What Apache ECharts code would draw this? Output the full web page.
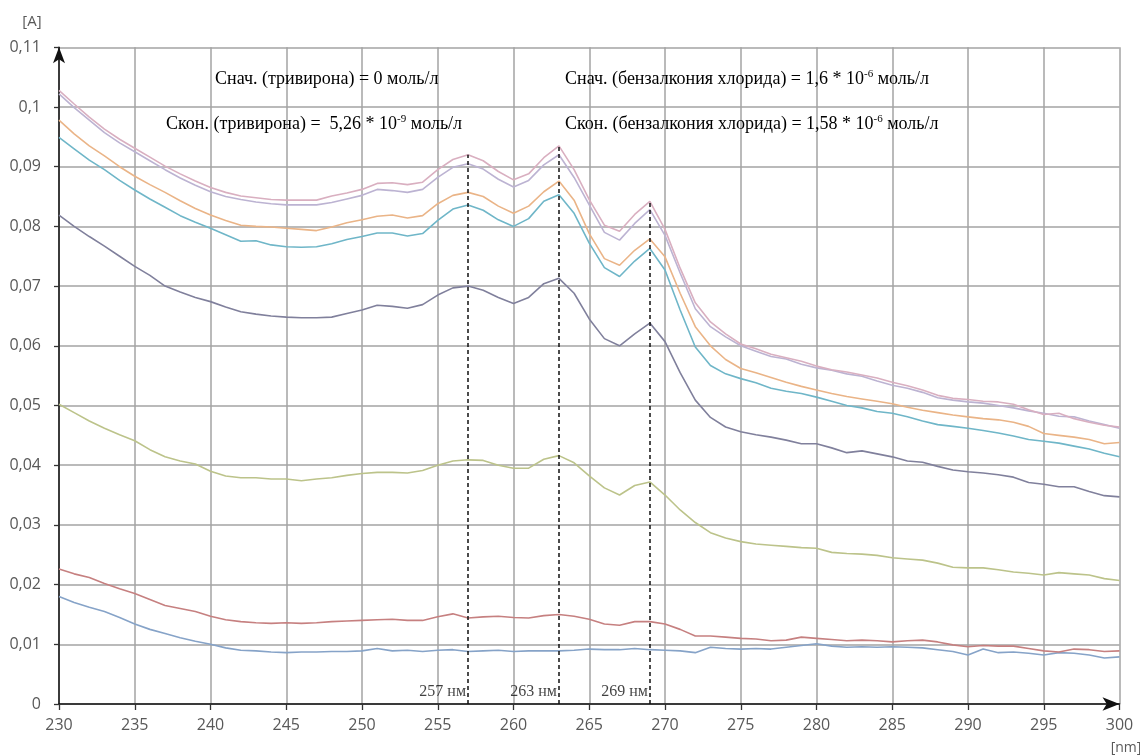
<!DOCTYPE html>
<html>
<head>
<meta charset="utf-8">
<script src="https://cdn.jsdelivr.net/npm/echarts@6/dist/echarts.min.js"></script>
<style>
  html, body { margin: 0; padding: 0; background: #fff; }
  #chart { width: 1140px; height: 755px; }
</style>
</head>
<body>
<div id="chart"></div>
<script>
// Wavelength grid, nm (230 … 300, step 1)
const wavelengths = [];
for (let w = 230; w <= 300; w++) wavelengths.push(w);

// Absorbance spectra, one value per nm
const spectrumPink = [
  0.1028,0.1005,0.0983,0.0963,0.0946,0.0931,0.0916,0.0901,0.0888,0.0876,
  0.0865,0.0857,0.0851,0.0848,0.0845,0.0844,0.0844,0.0844,0.0851,0.0856,
  0.0862,0.0872,0.0873,0.0870,0.0874,0.0895,0.0912,0.0920,0.0910,0.0892,
  0.0878,0.0888,0.0915,0.0935,0.0895,0.0845,0.0802,0.0792,0.0820,0.0842,
  0.0795,0.0730,0.0672,0.0640,0.0620,0.0603,0.0595,0.0586,0.0580,0.0574,
  0.0566,0.0560,0.0556,0.0551,0.0546,0.0539,0.0533,0.0526,0.0517,0.0512,
  0.0510,0.0507,0.0506,0.0502,0.0493,0.0485,0.0487,0.0478,0.0472,0.0467,
  0.0464
];
const spectrumLavender = [
  0.1022,0.0999,0.0978,0.0957,0.0940,0.0925,0.0910,0.0895,0.0881,0.0869,
  0.0858,0.0850,0.0845,0.0841,0.0838,0.0836,0.0836,0.0836,0.0840,0.0846,
  0.0852,0.0862,0.0860,0.0857,0.0862,0.0882,0.0899,0.0905,0.0896,0.0879,
  0.0866,0.0877,0.0903,0.0920,0.0882,0.0836,0.0790,0.0777,0.0805,0.0828,
  0.0785,0.0722,0.0662,0.0632,0.0615,0.0600,0.0591,0.0582,0.0578,0.0569,
  0.0563,0.0559,0.0553,0.0549,0.0541,0.0534,0.0529,0.0522,0.0513,0.0509,
  0.0506,0.0504,0.0500,0.0496,0.0491,0.0487,0.0482,0.0481,0.0474,0.0468,
  0.0462
];
const spectrumOrange = [
  0.0978,0.0955,0.0935,0.0918,0.0900,0.0884,0.0870,0.0857,0.0843,0.0830,
  0.0819,0.0810,0.0802,0.0800,0.0799,0.0797,0.0795,0.0793,0.0799,0.0806,
  0.0811,0.0817,0.0819,0.0814,0.0818,0.0838,0.0852,0.0857,0.0850,0.0834,
  0.0822,0.0834,0.0858,0.0876,0.0844,0.0788,0.0746,0.0735,0.0760,0.0779,
  0.0749,0.0688,0.0632,0.0600,0.0577,0.0562,0.0555,0.0547,0.0539,0.0532,
  0.0526,0.0520,0.0515,0.0511,0.0507,0.0503,0.0497,0.0492,0.0488,0.0484,
  0.0481,0.0478,0.0476,0.0472,0.0465,0.0453,0.0450,0.0447,0.0443,0.0436,
  0.0438
];
const spectrumTeal = [
  0.0949,0.0930,0.0911,0.0895,0.0877,0.0861,0.0846,0.0832,0.0818,0.0807,
  0.0797,0.0786,0.0775,0.0776,0.0769,0.0766,0.0765,0.0766,0.0771,0.0778,
  0.0783,0.0789,0.0789,0.0784,0.0788,0.0810,0.0829,0.0836,0.0827,0.0811,
  0.0800,0.0813,0.0842,0.0853,0.0822,0.0772,0.0731,0.0716,0.0742,0.0763,
  0.0727,0.0660,0.0598,0.0567,0.0553,0.0545,0.0538,0.0529,0.0524,0.0520,
  0.0514,0.0507,0.0500,0.0496,0.0490,0.0487,0.0481,0.0474,0.0468,0.0465,
  0.0462,0.0458,0.0454,0.0449,0.0443,0.0440,0.0437,0.0432,0.0427,0.0420,
  0.0414
];
const spectrumSlate = [
  0.0819,0.0800,0.0783,0.0767,0.0750,0.0733,0.0718,0.0700,0.0690,0.0681,
  0.0674,0.0665,0.0657,0.0653,0.0650,0.0648,0.0647,0.0647,0.0648,0.0654,
  0.0660,0.0668,0.0666,0.0663,0.0669,0.0685,0.0697,0.0700,0.0693,0.0681,
  0.0671,0.0681,0.0704,0.0713,0.0688,0.0645,0.0612,0.0600,0.0620,0.0638,
  0.0607,0.0555,0.0509,0.0480,0.0464,0.0456,0.0451,0.0447,0.0442,0.0436,
  0.0436,0.0429,0.0421,0.0424,0.0419,0.0414,0.0407,0.0405,0.0398,0.0392,
  0.0389,0.0387,0.0384,0.0380,0.0371,0.0368,0.0364,0.0364,0.0356,0.0349,
  0.0347
];
const spectrumOlive = [
  0.0502,0.0488,0.0474,0.0462,0.0451,0.0441,0.0426,0.0414,0.0407,0.0402,
  0.0390,0.0382,0.0379,0.0379,0.0377,0.0377,0.0374,0.0377,0.0379,0.0383,
  0.0386,0.0388,0.0388,0.0387,0.0391,0.0400,0.0407,0.0409,0.0408,0.0400,
  0.0395,0.0395,0.0410,0.0416,0.0404,0.0382,0.0362,0.0350,0.0366,0.0372,
  0.0350,0.0325,0.0304,0.0287,0.0278,0.0272,0.0268,0.0266,0.0264,0.0262,
  0.0261,0.0254,0.0252,0.0251,0.0249,0.0245,0.0243,0.0241,0.0236,0.0229,
  0.0228,0.0228,0.0225,0.0221,0.0219,0.0216,0.0220,0.0218,0.0216,0.0210,
  0.0207
];
const spectrumRed = [
  0.0226,0.0218,0.0212,0.0202,0.0193,0.0185,0.0175,0.0165,0.0160,0.0155,
  0.0147,0.0141,0.0138,0.0136,0.0135,0.0136,0.0135,0.0136,0.0138,0.0139,
  0.0140,0.0141,0.0142,0.0140,0.0140,0.0146,0.0151,0.0144,0.0146,0.0147,
  0.0145,0.0144,0.0148,0.0150,0.0147,0.0142,0.0134,0.0132,0.0138,0.0138,
  0.0134,0.0125,0.0114,0.0114,0.0112,0.0110,0.0109,0.0106,0.0107,0.0112,
  0.0110,0.0108,0.0106,0.0107,0.0106,0.0104,0.0106,0.0107,0.0104,0.0099,
  0.0096,0.0098,0.0097,0.0097,0.0093,0.0089,0.0087,0.0092,0.0091,0.0088,
  0.0089
];
const spectrumBlue = [
  0.0180,0.0170,0.0162,0.0155,0.0145,0.0134,0.0125,0.0118,0.0111,0.0105,
  0.0100,0.0094,0.0090,0.0089,0.0087,0.0086,0.0087,0.0087,0.0088,0.0088,
  0.0089,0.0093,0.0089,0.0090,0.0088,0.0090,0.0091,0.0088,0.0089,0.0090,
  0.0088,0.0089,0.0089,0.0089,0.0090,0.0092,0.0091,0.0091,0.0093,0.0091,
  0.0090,0.0089,0.0086,0.0095,0.0093,0.0092,0.0093,0.0092,0.0095,0.0098,
  0.0101,0.0097,0.0095,0.0096,0.0095,0.0096,0.0095,0.0094,0.0091,0.0088,
  0.0082,0.0092,0.0086,0.0087,0.0085,0.0082,0.0086,0.0085,0.0082,0.0077,
  0.0079
];

// Marked absorption maxima, nm
const peakWavelengths = [257, 263, 269];
const peakLabels = ['257 нм', '263 нм', '269 нм'];

// Axis ticks
const xTicks = [230,235,240,245,250,255,260,265,270,275,280,285,290,295,300];
const yTicks = [0,0.01,0.02,0.03,0.04,0.05,0.06,0.07,0.08,0.09,0.1,0.11];
const yTickLabels = ['0','0,01','0,02','0,03','0,04','0,05','0,06','0,07','0,08','0,09','0,1','0,11'];

const curves = [
  { values: spectrumBlue,     color: '#86a3c8' },
  { values: spectrumRed,      color: '#c68080' },
  { values: spectrumOlive,    color: '#bcc38a' },
  { values: spectrumSlate,    color: '#80809c' },
  { values: spectrumTeal,     color: '#6fb6c8' },
  { values: spectrumOrange,   color: '#eab487' },
  { values: spectrumLavender, color: '#bcb3d2' },
  { values: spectrumPink,     color: '#d9afc0' }
];

const pair = (vals) => wavelengths.map((w, i) => [w, vals[i]]);

const series = curves.map(c => ({
  type: 'line',
  data: pair(c.values),
  showSymbol: false,
  symbol: 'none',
  silent: true,
  lineStyle: { color: c.color, width: 1.6 },
  z: 3
}));

// Dashed verticals from the baseline up to the top spectrum at each maximum
series.push({
  type: 'line',
  data: [],
  silent: true,
  markLine: {
    silent: true,
    symbol: ['none', 'none'],
    label: { show: false },
    lineStyle: { color: '#111', type: [4, 3], width: 1.5 },
    data: peakWavelengths.map(w => [
      { coord: [w, 0] },
      { coord: [w, spectrumPink[wavelengths.indexOf(w)]] }
    ])
  },
  z: 4
});

// Wavelength captions beside the dashed lines
series.push({
  type: 'scatter',
  symbolSize: 0,
  silent: true,
  data: peakWavelengths.map((w, i) => ({ value: [w, 0.002], name: peakLabels[i] })),
  label: {
    show: true,
    position: 'left',
    distance: 2,
    formatter: p => p.name,
    fontFamily: 'Liberation Serif',
    fontSize: 16,
    color: '#111'
  },
  z: 5
});

const serif = 'Liberation Serif';
const richNote = {
  a: { fontFamily: serif, fontSize: 18, color: '#111', lineHeight: 22 },
  s: { fontFamily: serif, fontSize: 11, color: '#111', lineHeight: 22, verticalAlign: 'top', padding: [1, 0, 0, 0] }
};
const note = (x, y, text) => ({
  type: 'text', x: x, y: y, z: 10,
  style: { text: text, rich: richNote, verticalAlign: 'middle', align: 'left' }
});

const chart = echarts.init(document.getElementById('chart'), null, { renderer: 'canvas' });
chart.setOption({
  animation: false,
  backgroundColor: '#fff',
  grid: { left: 59, right: 20.5, top: 47.3, bottom: 51, containLabel: false },
  xAxis: {
    type: 'value',
    min: xTicks[0], max: xTicks[xTicks.length - 1], interval: 5,
    axisLine: { show: true, lineStyle: { color: '#111', width: 1.5 }, symbol: ['none', 'arrow'], symbolSize: [10, 17], symbolOffset: [0, 0] },
    axisTick: { show: true, length: 6, lineStyle: { color: '#333', width: 1.3 } },
    axisLabel: { fontFamily: 'Open Sans', fontSize: 16, color: '#595959', margin: 13 },
    splitLine: { show: true, lineStyle: { color: '#a3a3a3', width: 1.5 } }
  },
  yAxis: {
    type: 'value',
    min: 0, max: yTicks[yTicks.length - 1], interval: 0.01,
    axisLine: { show: true, lineStyle: { color: '#111', width: 1.5 }, symbol: ['none', 'arrow'], symbolSize: [9, 16] },
    axisTick: { show: true, length: 5, lineStyle: { color: '#333', width: 1.3 } },
    axisLabel: {
      fontFamily: 'Open Sans', fontSize: 16, color: '#595959', margin: 18,
      formatter: v => {
        const i = yTicks.findIndex(t => Math.abs(t - v) < 1e-9);
        return i >= 0 ? yTickLabels[i] : '';
      }
    },
    splitLine: { show: true, lineStyle: { color: '#a3a3a3', width: 1.5 } }
  },
  graphic: [
    { type: 'text', x: 32, y: 22, style: { text: '[A]', fontFamily: 'Open Sans', fontSize: 15, fill: '#595959', align: 'center', verticalAlign: 'middle' } },
    { type: 'text', x: 1126, y: 748, style: { text: '[nm]', fontFamily: 'Open Sans', fontSize: 14, fill: '#595959', align: 'center', verticalAlign: 'middle' } },
    note(215, 79, '{a|Снач. (тривирона) = 0 моль/л}'),
    note(166, 124, '{a|Скон. (тривирона) =  5,26 * 10}{s|-9}{a| моль/л}'),
    note(565, 79, '{a|Снач. (бензалкония хлорида) = 1,6 * 10}{s|-6}{a| моль/л}'),
    note(565, 124, '{a|Скон. (бензалкония хлорида) = 1,58 * 10}{s|-6}{a| моль/л}')
  ],
  series: series
});
</script>
</body>
</html>
